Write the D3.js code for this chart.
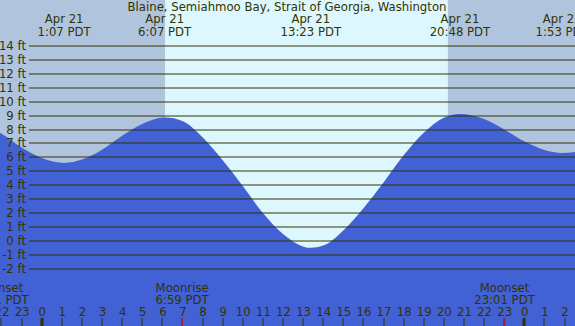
<!DOCTYPE html>
<html>
<head>
<meta charset="utf-8">
<script src="https://cdn.jsdelivr.net/npm/d3@7"></script>
<style>
  body { margin: 0; background: #fff; }
  svg { display: block; font-family: "DejaVu Sans", sans-serif; }
</style>
</head>
<body>
<svg class="chart"></svg>
<script>
// tide heights (ft), hours since midnight Apr 21
let tideHours   = [-3, -2, -1, 0, 1.12, 2, 3, 4, 5, 6.12, 7, 8, 9, 10, 11, 12, 13.38, 14, 15, 16, 17, 18, 19, 20, 20.8, 22, 23, 24, 25, 25.88, 27];
let tideHeights = [8.2, 7.7, 6.7, 5.95, 5.6, 5.84, 6.55, 7.55, 8.4, 8.87, 8.62, 7.45, 5.8, 3.95, 2.0, 0.5, -0.5, -0.34, 0.75, 2.35, 4.2, 6.15, 7.77, 8.85, 9.12, 8.75, 8.0, 7.15, 6.53, 6.32, 6.5];

// high / low labels along the top
let extremeHours = [1 + 7 / 60, 6 + 7 / 60, 13 + 23 / 60, 20 + 48 / 60, 25 + 53 / 60];
let extremeDates = ['Apr 21', 'Apr 21', 'Apr 21', 'Apr 21', 'Apr 22'];
let extremeTimes = ['1:07 PDT', '6:07 PDT', '13:23 PDT', '20:48 PDT', '1:53 PDT'];

// sun and moon
let sunrise = 6 + 8 / 60;
let sunset = 20 + 12 / 60;
let moonHours = [-2 - 9 / 60, 6 + 59 / 60, 23 + 1 / 60];
let moonNames = ['Moonset', 'Moonrise', 'Moonset'];
let moonTimes = ['21:51 PDT', '6:59 PDT', '23:01 PDT'];

let feetTicks = d3.range(-2, 15);
let hourTicks = d3.range(-2, 27);

let title = 'Blaine, Semiahmoo Bay, Strait of Georgia, Washington';

let colorNight = '#b0c4de';
let colorDay = '#ddf7fe';
let colorWater = '#4161d4';
let colorInk = '#333300';
let fontSize = '11.7px';

let svg_width = 575;
let svg_height = 326;

let svg = d3.select('.chart')
  .attr('width', svg_width)
  .attr('height', svg_height);

let scaleX = d3.scaleLinear()
  .domain([0, 24])
  .range([41.7, 524.3]);

let scaleY = d3.scaleLinear()
  .domain([-2, 14])
  .range([268.7, 46]);

// night / day background
svg.append('rect')
  .attr('x', 0).attr('y', 0)
  .attr('width', svg_width).attr('height', svg_height)
  .attr('fill', colorNight);

svg.append('rect')
  .attr('x', scaleX(sunrise)).attr('y', 0)
  .attr('width', scaleX(sunset) - scaleX(sunrise)).attr('height', svg_height)
  .attr('fill', colorDay);

// water
let tide = tideHours.map((h, i) => [h, tideHeights[i]]);

let area = d3.area()
  .x(d => scaleX(d[0]))
  .y0(svg_height)
  .y1(d => scaleY(d[1]))
  .curve(d3.curveMonotoneX);

svg.append('path')
  .datum(tide)
  .attr('d', area)
  .attr('fill', colorWater);

// feet grid + labels
let axisY = d3.axisLeft(scaleY)
  .tickValues(feetTicks)
  .tickFormat(d => d + ' ft')
  .tickSize(0)
  .tickPadding(3);

svg.append('g')
  .attr('class', 'y-axis')
  .attr('transform', translate(29, 0))
  .call(customYAxis);

// hour ticks along the bottom
let axisX = d3.axisTop(scaleX)
  .tickValues(hourTicks)
  .tickFormat(d => (d + 24) % 24)
  .tickSize(0)
  .tickPadding(0);

svg.append('g')
  .attr('class', 'x-axis')
  .attr('transform', translate(0, 316))
  .call(customXAxis);

svg.selectAll('.hour-tick')
  .data(hourTicks)
  .enter()
  .append('rect')
  .attr('class', 'hour-tick')
  .attr('x', d => Math.round(scaleX(d)) - (d % 24 === 0 ? 1.5 : 0.5))
  .attr('y', 318)
  .attr('width', d => d % 24 === 0 ? 3 : 1)
  .attr('height', 8)
  .attr('fill', colorInk);

svg.selectAll('.moon-tick')
  .data(moonHours)
  .enter()
  .append('rect')
  .attr('class', 'moon-tick')
  .attr('x', d => Math.round(scaleX(d)) - 0.5)
  .attr('y', 318)
  .attr('width', 1)
  .attr('height', 8)
  .attr('fill', '#ff0000');

// moon labels
svg.selectAll('.moon-name')
  .data(moonNames)
  .enter()
  .append('text')
  .attr('class', 'moon-name')
  .text(d => d)
  .attr('x', (d, i) => scaleX(moonHours[i]))
  .attr('y', 291.5)
  .attr('text-anchor', 'middle');

svg.selectAll('.moon-time')
  .data(moonTimes)
  .enter()
  .append('text')
  .attr('class', 'moon-time')
  .text(d => d)
  .attr('x', (d, i) => scaleX(moonHours[i]))
  .attr('y', 304)
  .attr('text-anchor', 'middle');

// extreme labels along the top
svg.selectAll('.ext-date')
  .data(extremeDates)
  .enter()
  .append('text')
  .attr('class', 'ext-date')
  .text(d => d)
  .attr('x', (d, i) => scaleX(extremeHours[i]))
  .attr('y', 23)
  .attr('text-anchor', 'middle');

svg.selectAll('.ext-time')
  .data(extremeTimes)
  .enter()
  .append('text')
  .attr('class', 'ext-time')
  .text(d => d)
  .attr('x', (d, i) => scaleX(extremeHours[i]))
  .attr('y', 35.5)
  .attr('text-anchor', 'middle');

svg.append('text')
  .text(title)
  .attr('x', 287)
  .attr('y', 11)
  .attr('text-anchor', 'middle');

svg.selectAll('text')
  .attr('fill', colorInk)
  .style('font-size', fontSize);

function translate(x, y) {
  return 'translate(' + x + ',' + y + ')';
}

function customYAxis(g) {
  g.call(axisY);
  g.attr('font-family', null).attr('font-size', null);
  g.select('.domain').remove();
  g.selectAll('.tick line')
    .attr('x1', 0)
    .attr('x2', svg_width)
    .attr('y1', 0.5)
    .attr('y2', 0.5)
    .attr('stroke', colorInk)
    .attr('stroke-width', 1);
  g.selectAll('.tick')
    .attr('transform', d => translate(0, Math.round(scaleY(d)) - 0.5));
  g.selectAll('.tick text')
    .attr('dy', '0.36em');
}

function customXAxis(g) {
  g.call(axisX);
  g.attr('font-family', null).attr('font-size', null);
  g.select('.domain').remove();
  g.selectAll('.tick text')
    .attr('dy', 0);
}
</script>
</body>
</html>
